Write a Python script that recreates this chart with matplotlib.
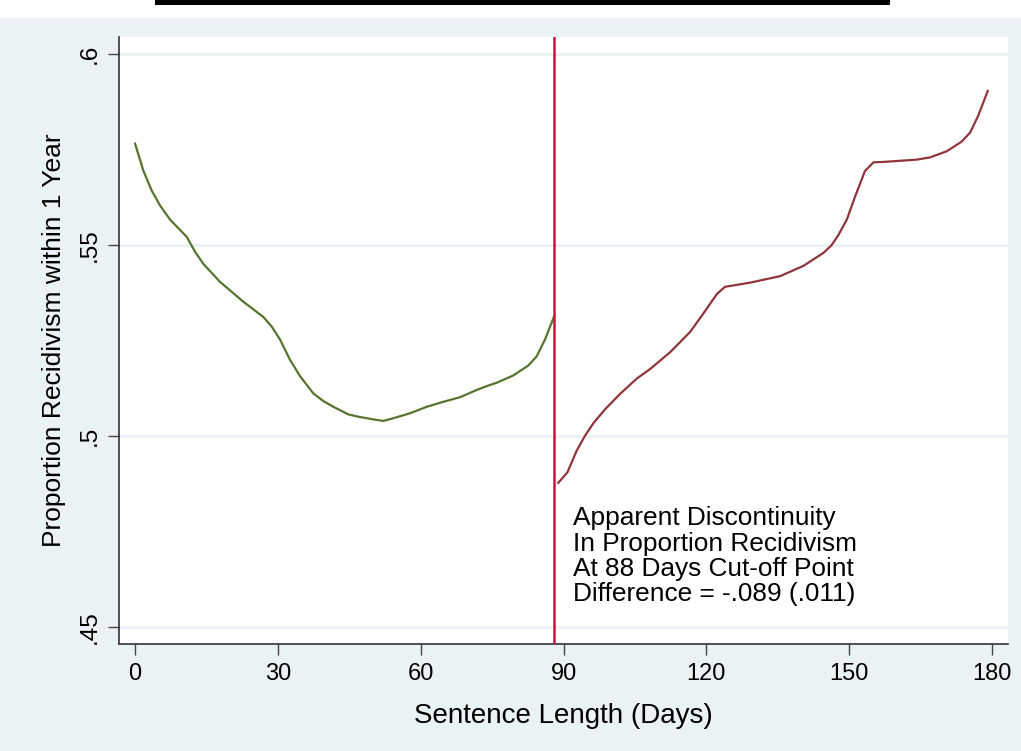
import matplotlib
matplotlib.use("Agg")
import matplotlib.pyplot as plt

# ==========================================
# Data
# ==========================================

days_below = [0, 1.75, 3.5, 5.25, 7.35, 10.85, 12.6, 14.35, 17.85, 22.75,
              26.95, 28.7, 30.45, 32.55, 34.66, 37.45, 39.55, 41.65, 44.8,
              46.9, 50.05, 52.15, 54.25, 57.76, 61.26, 64.75, 68.26, 71.76,
              73.86, 75.96, 79.45, 82.6, 84.36, 86.1, 88.0]
recid_below = [0.5766, 0.5695, 0.5643, 0.5604, 0.5567, 0.5522, 0.5483, 0.5451,
               0.5404, 0.5352, 0.5312, 0.5287, 0.5253, 0.5200, 0.5157, 0.5112,
               0.5092, 0.5077, 0.5057, 0.5051, 0.5044, 0.5040, 0.5047, 0.5060,
               0.5077, 0.5090, 0.5102, 0.5121, 0.5131, 0.5140, 0.5159, 0.5185,
               0.5209, 0.5253, 0.5313]

days_above = [88.9, 90.8, 92.76, 94.5, 96.27, 98.7, 101.9, 105.4, 108.2, 112.4,
              116.6, 119.3, 122.2, 123.9, 129.2, 135.5, 140.4, 144.6, 146.3,
              147.7, 149.5, 151.2, 153.3, 155.1, 157.2, 164.2, 167.0, 170.5,
              173.6, 175.4, 177.1, 179.1]
recid_above = [0.4878, 0.4905, 0.4962, 0.5001, 0.5034, 0.5070, 0.5111, 0.5151,
               0.5176, 0.5220, 0.5273, 0.5320, 0.5372, 0.5391, 0.5402, 0.5419,
               0.5446, 0.5480, 0.5500, 0.5526, 0.5567, 0.5626, 0.5694, 0.5717,
               0.5718, 0.5724, 0.5730, 0.5746, 0.5771, 0.5795, 0.5839, 0.5904]

cutoff = 88
x_ticks = [0, 30, 60, 90, 120, 150, 180]
y_ticks = [0.45, 0.5, 0.55, 0.6]
y_tick_labels = [".45", ".5", ".55", ".6"]
note = ("Apparent Discontinuity\nIn Proportion Recidivism\n"
        "At 88 Days Cut-off Point\nDifference = -.089 (.011)")

# ==========================================
# Figure
# ==========================================

plt.rcParams["font.family"] = ["Liberation Sans", "DejaVu Sans"]

bg = "#EAF2F3"
fig = plt.figure(figsize=(10.21, 7.51), dpi=100, facecolor=bg)

# white strip with cut-off title underline at the top
fig.patches.append(plt.Rectangle((0, 0.976), 1, 0.024, transform=fig.transFigure,
                                 facecolor="white", edgecolor="none"))
fig.patches.append(plt.Rectangle((0.152, 0.993), 0.720, 0.007, transform=fig.transFigure,
                                 facecolor="black", edgecolor="none"))

ax = fig.add_axes([0.1166, 0.1425, 0.8707, 0.8082])
ax.set_facecolor("white")

ax.plot(days_below, recid_below, color="#55752F", lw=1.6, zorder=3)
ax.plot(days_above, recid_above, color="#90353B", lw=1.6, zorder=3)
ax.axvline(cutoff, color="#C8143C", lw=1.8, zorder=4)

ax.text(92.0, 0.4816, note, fontsize=18.9, va="top", ha="left",
        linespacing=1.06, color="black")

ax.set_xlim(-3.36, 183.36)
ax.set_ylim(0.4456, 0.6045)
ax.set_xticks(x_ticks)
ax.set_yticks(y_ticks)
ax.set_yticklabels(y_tick_labels, rotation=90, va="center")
ax.tick_params(axis="x", labelsize=17, length=8, width=1, color="#444444", pad=6)
ax.tick_params(axis="y", labelsize=17.5, length=8, width=1, color="#444444", pad=5)

ax.grid(axis="y", color=bg, lw=2.2)
ax.set_axisbelow(True)

for side in ["top", "right"]:
    ax.spines[side].set_visible(False)
for side in ["left", "bottom"]:
    ax.spines[side].set_color("#333333")
    ax.spines[side].set_linewidth(1.2)

ax.set_xlabel("Sentence Length (Days)", fontsize=20, labelpad=13)
ax.set_ylabel("Proportion Recidivism within 1 Year", fontsize=19, labelpad=9)

fig.savefig("out.png", dpi=100, facecolor=bg)
